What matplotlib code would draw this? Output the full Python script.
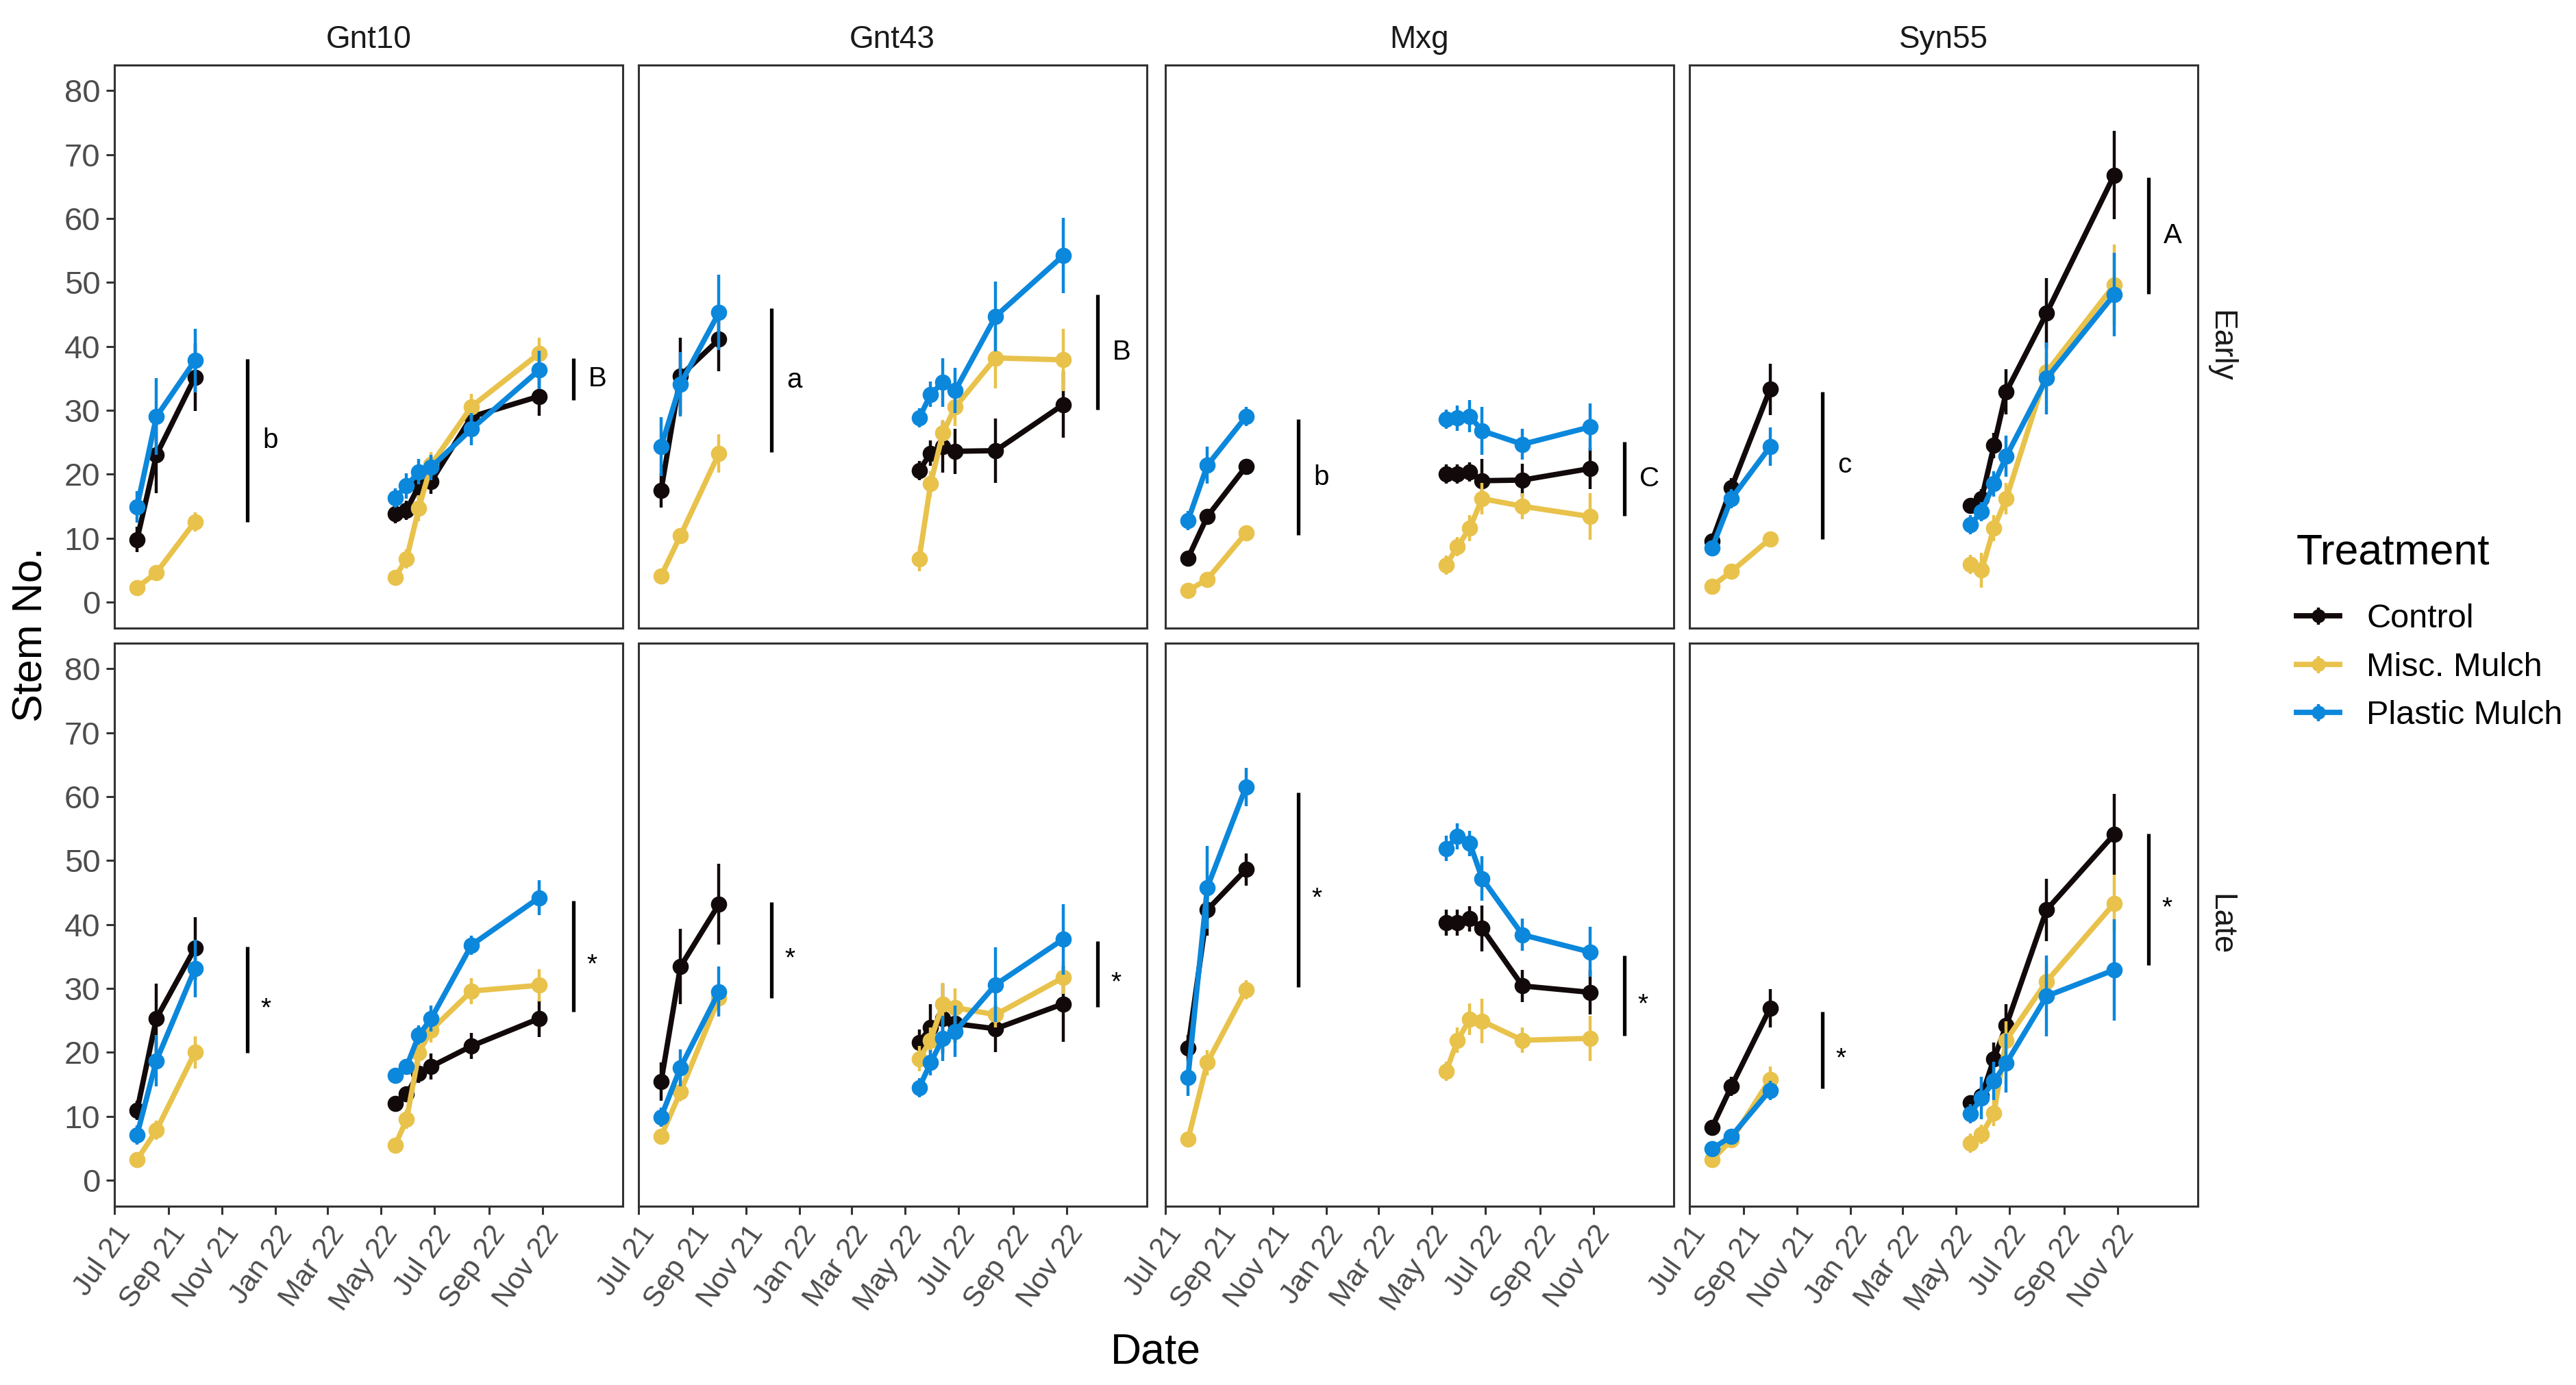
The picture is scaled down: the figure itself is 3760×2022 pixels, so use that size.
import numpy as np
import matplotlib
matplotlib.use("Agg")
import matplotlib.pyplot as plt
import matplotlib.dates as mdates
from matplotlib.lines import Line2D
from matplotlib.legend_handler import HandlerTuple

plt.rcParams['font.family'] = ['Liberation Sans', 'DejaVu Sans']

# ---------------- data ----------------
genotypes = ["Gnt10", "Gnt43", "Mxg", "Syn55"]
plantings = ["Early", "Late"]
treatments = ["Control", "Misc. Mulch", "Plastic Mulch"]
colors = ["#120a0a", "#E8C24B", "#0B87DC"]

dates_2021 = ["2021-07-27", "2021-08-18", "2021-10-01"]
dates_2022 = ["2022-05-17", "2022-05-30", "2022-06-13", "2022-06-27", "2022-08-12", "2022-10-28"]

# means (2021 x3, 2022 x6) and standard errors
gnt10_early_control = [9.8, 23.0, 35.2, 13.8, 14.4, 18.2, 18.9, 29.0, 32.2]
gnt10_early_misc = [2.3, 4.6, 12.6, 3.9, 6.8, 14.7, 21.5, 30.6, 38.9]
gnt10_early_plastic = [14.9, 29.0, 37.8, 16.3, 18.2, 20.4, 21.1, 27.1, 36.3]
gnt10_early_control_se = [2, 6, 5.3, 1.5, 1.5, 2, 2, 2.5, 3]
gnt10_early_misc_se = [1, 1, 1.5, 1, 1.5, 2, 2, 2, 2.5]
gnt10_early_plastic_se = [2.5, 6, 5, 1.5, 2, 2, 2, 2.5, 3]

gnt43_early_control = [17.5, 35.4, 41.1, 20.6, 23.3, 24.3, 23.6, 23.7, 30.9]
gnt43_early_misc = [4.1, 10.4, 23.3, 6.8, 18.5, 26.5, 30.5, 38.2, 37.9]
gnt43_early_plastic = [24.3, 34.1, 45.3, 28.8, 32.5, 34.4, 33.1, 44.7, 54.2]
gnt43_early_control_se = [2.7, 6, 5, 1.5, 2, 4, 3.5, 5, 5.2]
gnt43_early_misc_se = [1, 1, 3, 2, 2, 2, 3, 4.8, 4.9]
gnt43_early_plastic_se = [4.6, 5, 5.9, 1.5, 2, 3.8, 3.5, 5.5, 5.9]

mxg_early_control = [6.9, 13.4, 21.2, 20.1, 20.1, 20.4, 19.0, 19.1, 20.9]
mxg_early_misc = [1.8, 3.6, 10.8, 5.8, 8.7, 11.6, 16.2, 15.0, 13.4]
mxg_early_plastic = [12.8, 21.4, 29.0, 28.6, 28.8, 29.1, 26.8, 24.7, 27.4]
mxg_early_control_se = [1, 1, 1, 1.5, 1.5, 1.5, 3.4, 2.6, 3.2]
mxg_early_misc_se = [1, 1, 1, 1.5, 1.5, 2, 2.5, 2, 3.6]
mxg_early_plastic_se = [1.5, 2.9, 1.5, 1.5, 2, 2.5, 3.7, 2.4, 3.7]

syn55_early_control = [9.6, 17.9, 33.3, 15.1, 16.2, 24.5, 32.9, 45.2, 66.8]
syn55_early_misc = [2.5, 4.8, 9.9, 5.9, 5.0, 11.6, 16.2, 36.0, 49.6]
syn55_early_plastic = [8.5, 16.2, 24.3, 12.1, 14.2, 18.5, 22.8, 35.0, 48.1]
syn55_early_control_se = [1, 1.5, 4, 1, 1.5, 2, 3.5, 5.5, 6.9]
syn55_early_misc_se = [0.8, 1, 1, 1.5, 2.7, 2, 2.5, 3, 6.3]
syn55_early_plastic_se = [1, 1.5, 3, 1.5, 1.5, 2, 3.2, 5.6, 6.5]

gnt10_late_control = [10.9, 25.3, 36.3, 12.0, 13.5, 16.7, 17.8, 21.0, 25.3]
gnt10_late_misc = [3.2, 7.8, 20.0, 5.5, 9.5, 19.9, 23.5, 29.6, 30.5]
gnt10_late_plastic = [7.1, 18.7, 33.1, 16.4, 17.8, 22.7, 25.3, 36.8, 44.2]
gnt10_late_control_se = [1.5, 5.5, 4.9, 1, 1, 1.5, 2, 2, 2.9]
gnt10_late_misc_se = [1, 1.5, 2.5, 1, 1.5, 2, 2, 2, 2.5]
gnt10_late_plastic_se = [1.5, 4, 4.5, 1, 1, 1.5, 2, 1.5, 2.7]

gnt43_late_control = [15.4, 33.4, 43.2, 21.6, 23.9, 25.3, 24.5, 23.7, 27.6]
gnt43_late_misc = [6.9, 13.8, 28.5, 19.0, 21.9, 27.6, 27.0, 25.9, 31.7]
gnt43_late_plastic = [9.9, 17.6, 29.5, 14.5, 18.4, 22.2, 23.3, 30.6, 37.7]
gnt43_late_control_se = [3, 5.9, 6.3, 2, 3.7, 5.5, 3, 3.6, 5.9]
gnt43_late_misc_se = [1, 1.5, 2, 2, 2, 3.3, 3, 2, 2.5]
gnt43_late_plastic_se = [1.5, 2.9, 3.9, 1.5, 2, 3.5, 4, 5.8, 5.5]

mxg_late_control = [20.7, 42.3, 48.6, 40.3, 40.3, 40.9, 39.4, 30.4, 29.4]
mxg_late_misc = [6.4, 18.4, 29.8, 17.0, 21.9, 25.2, 24.9, 21.9, 22.2]
mxg_late_plastic = [16.1, 45.8, 61.5, 51.9, 53.8, 52.7, 47.2, 38.4, 35.7]
mxg_late_control_se = [2, 4, 2.5, 2, 2, 2, 3.6, 2.5, 3.5]
mxg_late_misc_se = [1, 2, 1.5, 1.5, 2, 2.5, 3.5, 2, 3.5]
mxg_late_plastic_se = [2.9, 6.5, 3, 2, 2, 2, 3.5, 2.5, 3.9]

syn55_late_control = [8.3, 14.7, 26.9, 12.1, 13.2, 19.0, 24.2, 42.3, 54.1]
syn55_late_misc = [3.2, 6.3, 15.8, 5.8, 7.2, 10.5, 21.9, 31.1, 43.3]
syn55_late_plastic = [4.9, 6.9, 14.1, 10.4, 12.9, 15.5, 18.3, 28.8, 32.9]
syn55_late_control_se = [1, 1.5, 3, 1, 1.5, 2.5, 3.4, 4.9, 6.3]
syn55_late_misc_se = [0.8, 1, 2, 1.5, 1.5, 2, 3, 3, 4.5]
syn55_late_plastic_se = [1, 1, 1.5, 1.5, 3.3, 3, 4.6, 6.3, 7.9]

# significance bars: (low, high, label) for 2021 and 2022
sig_dates = ["2021-11-30", "2022-12-06"]
sig_gnt10_early = [(12.5, 38.0, "b"), (31.6, 38.2, "B")]
sig_gnt43_early = [(23.5, 46.0, "a"), (30.1, 48.1, "B")]
sig_mxg_early = [(10.5, 28.6, "b"), (13.5, 25.1, "C")]
sig_syn55_early = [(9.9, 32.9, "c"), (48.2, 66.4, "A")]
sig_gnt10_late = [(19.9, 36.5, "*"), (26.4, 43.7, "*")]
sig_gnt43_late = [(28.5, 43.5, "*"), (27.1, 37.4, "*")]
sig_mxg_late = [(30.2, 60.7, "*"), (22.6, 35.2, "*")]
sig_syn55_late = [(14.4, 26.4, "*"), (33.7, 54.2, "*")]

x_ticks = ["2021-07-01", "2021-09-01", "2021-11-01", "2022-01-01", "2022-03-01",
           "2022-05-01", "2022-07-01", "2022-09-01", "2022-11-01"]
x_tick_labels = ["Jul 21", "Sep 21", "Nov 21", "Jan 22", "Mar 22",
                 "May 22", "Jul 22", "Sep 22", "Nov 22"]
y_ticks = [0, 10, 20, 30, 40, 50, 60, 70, 80]
x_range = ["2021-07-01", "2023-01-31"]
y_range = [-4, 84]

# ---------------- assemble ----------------
panel_data = {
    ("Gnt10", "Early"): ([gnt10_early_control, gnt10_early_misc, gnt10_early_plastic],
                         [gnt10_early_control_se, gnt10_early_misc_se, gnt10_early_plastic_se], sig_gnt10_early),
    ("Gnt43", "Early"): ([gnt43_early_control, gnt43_early_misc, gnt43_early_plastic],
                         [gnt43_early_control_se, gnt43_early_misc_se, gnt43_early_plastic_se], sig_gnt43_early),
    ("Mxg", "Early"): ([mxg_early_control, mxg_early_misc, mxg_early_plastic],
                       [mxg_early_control_se, mxg_early_misc_se, mxg_early_plastic_se], sig_mxg_early),
    ("Syn55", "Early"): ([syn55_early_control, syn55_early_misc, syn55_early_plastic],
                         [syn55_early_control_se, syn55_early_misc_se, syn55_early_plastic_se], sig_syn55_early),
    ("Gnt10", "Late"): ([gnt10_late_control, gnt10_late_misc, gnt10_late_plastic],
                        [gnt10_late_control_se, gnt10_late_misc_se, gnt10_late_plastic_se], sig_gnt10_late),
    ("Gnt43", "Late"): ([gnt43_late_control, gnt43_late_misc, gnt43_late_plastic],
                        [gnt43_late_control_se, gnt43_late_misc_se, gnt43_late_plastic_se], sig_gnt43_late),
    ("Mxg", "Late"): ([mxg_late_control, mxg_late_misc, mxg_late_plastic],
                      [mxg_late_control_se, mxg_late_misc_se, mxg_late_plastic_se], sig_mxg_late),
    ("Syn55", "Late"): ([syn55_late_control, syn55_late_misc, syn55_late_plastic],
                        [syn55_late_control_se, syn55_late_misc_se, syn55_late_plastic_se], sig_syn55_late),
}

def dnum(lst):
    return mdates.date2num(np.array(lst, dtype="datetime64[D]"))

x21 = dnum(dates_2021)
x22 = dnum(dates_2022)
xs = np.concatenate([x21, x22])
n21 = len(dates_2021)

# ---------------- layout ----------------
W, H = 3760, 2022
fig = plt.figure(figsize=(W / 100, H / 100), dpi=100)
fig.patch.set_facecolor("white")

col_left = [166.7, 931.6, 1700.7, 2465.7]
panel_w = 742.0
row_top = [95.0, 939.0]
panel_h = 821.5

border_col = "#333333"
tick_col = "#4D4D4D"
LW = 5.6
MS = 16
ELW = 3.2

for r, pl in enumerate(plantings):
    for c, g in enumerate(genotypes):
        l = col_left[c]
        t = row_top[r]
        ax = fig.add_axes([l / W, 1 - (t + panel_h) / H, panel_w / W, panel_h / H])
        means, ses, sigs = panel_data[(g, pl)]
        for k in range(3):
            m = np.array(means[k], dtype=float)
            s = np.array(ses[k], dtype=float)
            col = colors[k]
            ax.vlines(xs, m - s, m + s, color=col, lw=ELW, zorder=2 + k)
            ax.plot(x21, m[:n21], color=col, lw=LW, solid_capstyle="butt", zorder=2 + k)
            ax.plot(x22, m[n21:], color=col, lw=LW, solid_capstyle="butt", zorder=2 + k)
            ax.plot(xs, m, ls="none", marker="o", ms=MS, color=col, mec=col, zorder=2 + k)
        sx = dnum(sig_dates)
        for j, (lo, hi, lab) in enumerate(sigs):
            ax.vlines(sx[j], lo, hi, color="black", lw=3.8, zorder=6)
            mid = (lo + hi) / 2
            if lab == "*":
                ax.annotate(lab, (sx[j], mid), xytext=(14, -17), textcoords="offset points",
                            ha="left", va="baseline", fontsize=28, color="black")
            else:
                ax.annotate(lab, (sx[j], mid), xytext=(16, 0), textcoords="offset points",
                            ha="left", va="center", fontsize=29, color="black")
        ax.set_xlim(dnum(x_range))
        ax.set_ylim(y_range)
        for sp in ax.spines.values():
            sp.set_color(border_col)
            sp.set_linewidth(2.2)
        ax.set_xticks(dnum(x_ticks))
        ax.set_yticks(y_ticks)
        ax.tick_params(axis="both", length=8.6, width=2.2, color=border_col,
                       labelcolor=tick_col)
        ax.tick_params(axis="y", pad=6, labelsize=34)
        ax.tick_params(axis="x", pad=7, labelsize=31)
        if r == 1:
            ax.set_xticklabels(x_tick_labels, rotation=55, ha="right", va="top",
                               rotation_mode="anchor")
        else:
            ax.tick_params(axis="x", bottom=False, labelbottom=False)
        if c == 0:
            ax.set_yticklabels([str(v) for v in y_ticks])
        else:
            ax.tick_params(axis="y", left=False, labelleft=False)
        # strip labels
        if r == 0:
            fig.text((l + panel_w / 2) / W, 1 - 57.5 / H, g, ha="center", va="center",
                     fontsize=33, color="#1A1A1A")
        if c == 3:
            fig.text((l + panel_w + 34) / W, 1 - (t + panel_h / 2) / H, pl, ha="center",
                     va="center", rotation=-90, fontsize=33, color="#1A1A1A")

fig.text(1687 / W, 1 - 1974 / H, "Date", ha="center", va="center", fontsize=45)
fig.text(46 / W, 1 - 927 / H, "Stem No.", ha="center", va="center", rotation=90, fontsize=44)

handles = [(Line2D([], [], color=colors[k], lw=LW, marker="o", ms=MS * 0.85),
            Line2D([], [], color=colors[k], ls="none", marker="|", ms=18, mew=ELW))
           for k in range(3)]
leg = fig.legend(handles, treatments, loc="upper left", bbox_to_anchor=(3352 / W, 1 - 778 / H),
                 frameon=False, title="Treatment", title_fontsize=45, fontsize=35,
                 alignment="left", handlelength=1.3, handletextpad=0.8, labelspacing=0.52,
                 borderpad=0, borderaxespad=0,
                 handler_map={tuple: HandlerTuple(ndivide=1)})
leg._legend_box.sep = 32

fig.savefig("out.png", dpi=100, facecolor="white")
